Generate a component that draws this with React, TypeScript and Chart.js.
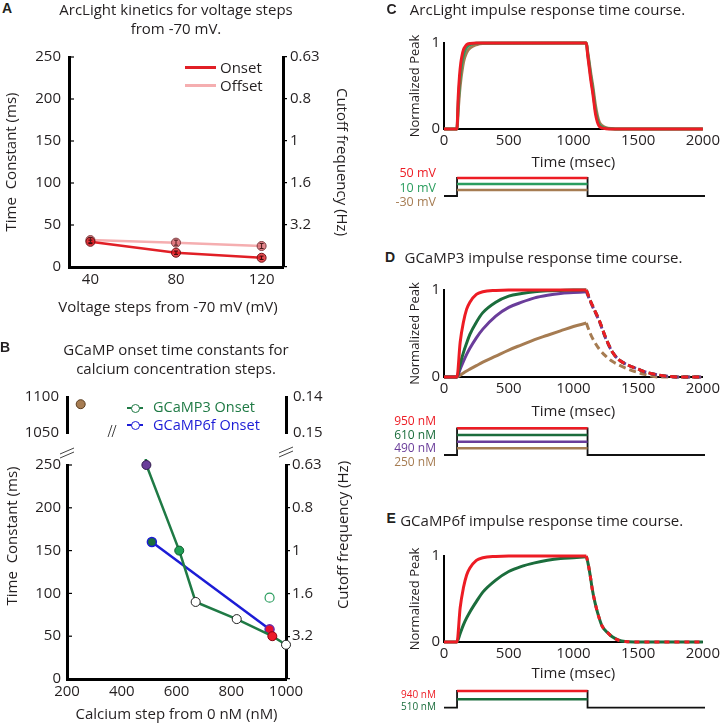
import React, { useEffect, useRef } from "react";
import { Chart, registerables } from "chart.js";
Chart.register(...registerables);

// ---------------- data ----------------
// Panel A: ArcLight kinetics
const voltageSteps = [40, 80, 120];
const arcOnsetTau = [30, 17, 11];
const arcOffsetTau = [32, 29, 25];
const arcOnsetErr = [2, 2, 2];
const arcOffsetErr = [3, 3, 3];
const tauTickValues = [0, 50, 100, 150, 200, 250];
const cutoffTickLabels = ["", "3.2", "1.6", "1", "0.8", "0.63"];

// Panel B: GCaMP onset time constants
const gcamp3Calcium = [250, 490, 610, 670, 820, 950, 1000];
const gcamp3Tau = [1090, 250, 150, 90, 70, 50, 40];
const gcamp3OpenCalcium = [940];
const gcamp3OpenTau = [95];
const gcamp6fCalcium = [510, 940];
const gcamp6fTau = [160, 58];
const calciumTicks = [200, 400, 600, 800, 1000];
const brokenTauTicks = [1050, 1100];
const brokenCutoffLabels = ["0.15", "0.14"];

// Panels C-E: impulse responses
const timeTicks = [0, 500, 1000, 1500, 2000];
const peakTicks = [0, 1];
const stimOnOff = [100, 1100];

// C: ArcLight
const timeC = [0, 100, 110, 120, 130, 140, 150, 160, 175, 200, 250, 300, 1100, 1110, 1120, 1135, 1150, 1170, 1185, 1200, 1225, 1250, 1300, 1350, 2000];
const arc50mV = [0, 0, 0.38, 0.62, 0.77, 0.86, 0.92, 0.95, 0.98, 0.995, 1, 1, 1, 0.86, 0.74, 0.56, 0.41, 0.18, 0.08, 0.03, 0.01, 0.004, 0, 0, 0];
const arc10mV = [0, 0, 0.3, 0.52, 0.68, 0.79, 0.86, 0.91, 0.95, 0.98, 0.998, 1, 1, 0.88, 0.77, 0.6, 0.45, 0.22, 0.11, 0.05, 0.02, 0.008, 0.002, 0, 0];
const arcNeg30mV = [0, 0, 0.22, 0.42, 0.57, 0.68, 0.77, 0.83, 0.89, 0.94, 0.98, 0.995, 1, 0.9, 0.8, 0.64, 0.5, 0.28, 0.16, 0.08, 0.035, 0.015, 0.004, 0.001, 0];
const stimLevelsC = [3, 2, 1];
const stimLabelsC = ["50 mV", "10 mV", "-30 mV"];

// D: GCaMP3
const riseTimeD = [0, 100, 125, 150, 175, 200, 250, 300, 400, 500, 600, 700, 800, 900, 1000, 1100];
const g3Rise950 = [0, 0, 0.4, 0.63, 0.78, 0.86, 0.95, 0.98, 0.995, 1, 1, 1, 1, 1, 1, 1];
const g3Rise610 = [0, 0, 0.15, 0.28, 0.39, 0.49, 0.63, 0.74, 0.86, 0.93, 0.96, 0.98, 0.99, 0.995, 1, 1];
const g3Rise490 = [0, 0, 0.09, 0.18, 0.26, 0.33, 0.45, 0.55, 0.7, 0.8, 0.86, 0.91, 0.94, 0.96, 0.97, 0.98];
const g3Rise250 = [0, 0, 0.02, 0.045, 0.07, 0.09, 0.13, 0.17, 0.24, 0.31, 0.37, 0.43, 0.48, 0.53, 0.58, 0.62];
const decayTimeD = [1100, 1130, 1160, 1200, 1250, 1300, 1350, 1425, 1500, 1550, 1650, 1750, 1850, 2000];
const g3Decay950 = [1, 0.88, 0.78, 0.65, 0.45, 0.29, 0.2, 0.135, 0.09, 0.06, 0.025, 0.005, 0, 0];
const g3Decay610 = [1, 0.88, 0.78, 0.65, 0.45, 0.29, 0.2, 0.135, 0.09, 0.06, 0.025, 0.005, 0, 0];
const g3Decay490 = [0.98, 0.87, 0.77, 0.64, 0.44, 0.29, 0.2, 0.135, 0.09, 0.06, 0.025, 0.005, 0, 0];
const g3Decay250 = [0.62, 0.5, 0.41, 0.32, 0.24, 0.18, 0.14, 0.09, 0.05, 0.03, 0, 0, 0, 0];
const stimLevelsD = [4, 3, 2, 1];
const stimLabelsD = ["950 nM", "610 nM", "490 nM", "250 nM"];

// E: GCaMP6f
const riseTimeE = [0, 100, 125, 150, 175, 200, 250, 300, 400, 500, 600, 700, 800, 900, 1000, 1100];
const g6Rise940 = [0, 0, 0.4, 0.63, 0.78, 0.86, 0.95, 0.98, 0.995, 1, 1, 1, 1, 1, 1, 1];
const g6Rise510 = [0, 0, 0.1, 0.2, 0.28, 0.35, 0.47, 0.58, 0.72, 0.82, 0.88, 0.92, 0.95, 0.97, 0.98, 0.99];
const decayTimeE = [1100, 1115, 1130, 1145, 1165, 1185, 1220, 1270, 1300, 1350, 1400, 1500, 2000];
const g6Decay940 = [1, 0.9, 0.77, 0.62, 0.47, 0.35, 0.19, 0.1, 0.06, 0.02, 0.005, 0, 0];
const g6Decay510 = [1, 0.9, 0.77, 0.62, 0.47, 0.35, 0.19, 0.1, 0.06, 0.02, 0.005, 0, 0];
const stimLevelsE = [2, 1];
const stimLabelsE = ["940 nM", "510 nM"];

// ---------------- styles ----------------
const FONT = "'Open Sans', 'Noto Sans', sans-serif";
const INK = "#231f20";
const RED = "#ed1c24";
const DGREEN = "#1b6d3c";
const PURPLE = "#6a3d9a";
const BROWN = "#a67c52";
const CGREEN = "#2a9d5e";
const BLUE = "#1c1cd6";
const LGREEN = "#1f7a45";

Chart.defaults.font.family = FONT;
Chart.defaults.color = INK;

const pts = (xs: number[], ys: number[]) => xs.map((x, i) => ({ x, y: ys[i] }));
const tickList = (vals: number[]) => (s: any) => {
  s.ticks = vals.map((v) => ({ value: v }));
};
const plain = (v: any) => String(v);

const errorBars = {
  id: "errorBars",
  afterDatasetsDraw(chart: any) {
    const ctx = chart.ctx;
    chart.data.datasets.forEach((ds: any, di: number) => {
      if (!ds.errors) return;
      const meta = chart.getDatasetMeta(di);
      const ys = chart.scales[meta.yAxisID];
      ctx.save();
      ctx.strokeStyle = ds.errorColor;
      ctx.lineWidth = 1;
      meta.data.forEach((el: any, i: number) => {
        const v = ds.data[i].y;
        const e = ds.errors[i];
        const y1 = ys.getPixelForValue(v - e);
        const y2 = ys.getPixelForValue(v + e);
        ctx.beginPath();
        ctx.moveTo(el.x, y1);
        ctx.lineTo(el.x, y2);
        ctx.moveTo(el.x - 2, y1);
        ctx.lineTo(el.x + 2, y1);
        ctx.moveTo(el.x - 2, y2);
        ctx.lineTo(el.x + 2, y2);
        ctx.stroke();
      });
      ctx.restore();
    });
  },
};

const innerTicks = {
  id: "innerTicks",
  afterDraw(chart: any) {
    const s = chart.scales.y;
    if (!s) return;
    const ctx = chart.ctx;
    const left = chart.chartArea.left;
    ctx.save();
    ctx.strokeStyle = "#000";
    ctx.lineWidth = 1.2;
    s.ticks.forEach((t: any) => {
      const y = s.getPixelForValue(t.value);
      ctx.beginPath();
      ctx.moveTo(left, y);
      ctx.lineTo(left + 5, y);
      ctx.stroke();
    });
    ctx.restore();
  },
};

const breakMarksBottom = {
  id: "breakMarksBottom",
  afterDraw(chart: any) {
    const { left, right, top } = chart.chartArea;
    const ctx = chart.ctx;
    ctx.save();
    ctx.strokeStyle = "#444";
    ctx.lineWidth = 1;
    const pair = (cx: number, cy: number) => {
      for (const dy of [-2, 2]) {
        ctx.beginPath();
        ctx.moveTo(cx - 7, cy + dy + 3);
        ctx.lineTo(cx + 7, cy + dy - 3);
        ctx.stroke();
      }
    };
    pair(left, top - 12);
    pair(right, top - 13);
    ctx.restore();
  },
};

const breakMarksTop = {
  id: "breakMarksTop",
  afterDraw(chart: any) {
    const { left, bottom } = chart.chartArea;
    const ctx = chart.ctx;
    ctx.save();
    ctx.strokeStyle = "#444";
    ctx.lineWidth = 1;
    const cx = left + 45;
    const cy = bottom - 2;
    for (const dx of [-2, 2]) {
      ctx.beginPath();
      ctx.moveTo(cx + dx - 2, cy + 6);
      ctx.lineTo(cx + dx + 2, cy - 6);
      ctx.stroke();
    }
    ctx.restore();
  },
};

const baseOpts = (padding: any) => ({
  responsive: false,
  maintainAspectRatio: false,
  animation: false,
  events: [],
  layout: { padding },
  plugins: { legend: { display: false }, tooltip: { enabled: false }, title: { display: false } },
});

function makeA(cv: HTMLCanvasElement) {
  return new Chart(cv, {
    type: "line",
    data: {
      datasets: [
        {
          data: pts(voltageSteps, arcOnsetTau),
          borderColor: "#e11f26",
          borderWidth: 2.5,
          pointRadius: 4.5,
          pointBackgroundColor: "rgba(226,30,38,0.8)",
          pointBorderColor: "#6e1418",
          pointBorderWidth: 1,
          errors: arcOnsetErr,
          errorColor: "#3a0808",
          clip: false,
        } as any,
        {
          data: pts(voltageSteps, arcOffsetTau),
          borderColor: "#f5aeb0",
          borderWidth: 2.5,
          pointRadius: 4.5,
          pointBackgroundColor: "rgba(220,105,112,0.8)",
          pointBorderColor: "#7e3a3e",
          pointBorderWidth: 1,
          errors: arcOffsetErr,
          errorColor: "#4a1a1a",
          clip: false,
        } as any,
      ],
    },
    options: {
      ...baseOpts({ top: 17, right: 0, bottom: 0, left: 0 }),
      scales: {
        x: {
          type: "linear",
          min: 30,
          max: 130,
          afterFit: (s: any) => { s.height = 58; },
          afterBuildTicks: tickList(voltageSteps),
          grid: { display: false, drawTicks: false },
          border: { display: true, color: "#000", width: 3 },
          ticks: { padding: 4, font: { size: 15 }, color: INK, maxRotation: 0, callback: plain },
        },
        y: {
          type: "linear",
          position: "left",
          min: 0,
          max: 250,
          afterFit: (s: any) => { s.width = 69; },
          afterBuildTicks: tickList(tauTickValues),
          grid: { display: false, drawTicks: false },
          border: { display: true, color: "#000", width: 3 },
          ticks: { padding: 8, font: { size: 15 }, color: INK, callback: plain },
          title: { display: true, text: "Time  Constant (ms)", font: { size: 15 }, color: INK, padding: { top: 2.5, bottom: 0 } },
        },
        y2: {
          type: "linear",
          position: "right",
          min: 0,
          max: 250,
          afterFit: (s: any) => { s.width = 77; },
          afterBuildTicks: tickList(tauTickValues),
          grid: { display: true, drawOnChartArea: false, drawTicks: true, tickLength: 4, color: "#000", lineWidth: 1.2 },
          border: { display: true, color: "#000", width: 3 },
          ticks: { padding: 3, font: { size: 15 }, color: INK, callback: (_v: any, i: number) => cutoffTickLabels[i] },
          title: { display: true, text: "Cutoff frequency (Hz)", font: { size: 15 }, color: INK, padding: { top: 10, bottom: 0 } },
        },
      },
    } as any,
    plugins: [errorBars, innerTicks],
  });
}

const g3Fill = [BROWN, PURPLE, "#1fa055", "#ffffff", "#ffffff", "#ec1c2a", "#ffffff"];
const g3Edge = ["#5a3d20", "#2f1a4a", "#0f5a2c", "#222", "#222", "#8a0010", "#222"];
const g6Fill = ["#1b6e3c", "#e8102e"];
const g6Edge = [BLUE, "#6a2aa8"];

function makeBTop(cv: HTMLCanvasElement) {
  return new Chart(cv, {
    type: "line",
    data: {
      datasets: [
        {
          data: pts(gcamp3Calcium, gcamp3Tau),
          showLine: false,
          pointRadius: 4.5,
          pointBackgroundColor: g3Fill,
          pointBorderColor: g3Edge,
          pointBorderWidth: 1,
          clip: 0,
        } as any,
      ],
    },
    options: {
      ...baseOpts({ top: 13, right: 0, bottom: 14, left: 0 }),
      scales: {
        x: { type: "linear", min: 200, max: 1000, display: false },
        y: {
          type: "linear",
          position: "left",
          min: 1050,
          max: 1100,
          afterFit: (s: any) => { s.width = 67; },
          afterBuildTicks: tickList(brokenTauTicks),
          grid: { display: false, drawTicks: false },
          border: { display: true, color: "#000", width: 3 },
          ticks: { padding: 8, font: { size: 15 }, color: INK, callback: plain },
        },
        y2: {
          type: "linear",
          position: "right",
          min: 1050,
          max: 1100,
          afterFit: (s: any) => { s.width = 74; },
          afterBuildTicks: tickList(brokenTauTicks),
          grid: { display: false, drawTicks: false },
          border: { display: true, color: "#000", width: 3 },
          ticks: { padding: 7, font: { size: 15 }, color: INK, callback: (_v: any, i: number) => brokenCutoffLabels[i] },
        },
      },
    } as any,
    plugins: [breakMarksTop],
  });
}

function makeBBottom(cv: HTMLCanvasElement) {
  const clip = { left: 8, right: 8, top: 6, bottom: 8 };
  return new Chart(cv, {
    type: "line",
    data: {
      datasets: [
        {
          data: pts(gcamp3Calcium, gcamp3Tau),
          borderColor: LGREEN,
          borderWidth: 2.5,
          pointRadius: 4.5,
          pointBackgroundColor: g3Fill,
          pointBorderColor: g3Edge,
          pointBorderWidth: 1,
          tension: 0,
          clip,
        } as any,
        {
          data: pts(gcamp3OpenCalcium, gcamp3OpenTau),
          showLine: false,
          pointRadius: 4.5,
          pointBackgroundColor: "rgba(255,255,255,0)",
          pointBorderColor: "#2a9d5e",
          pointBorderWidth: 1.2,
          clip,
        } as any,
        {
          data: pts(gcamp6fCalcium, gcamp6fTau),
          borderColor: BLUE,
          borderWidth: 2.5,
          pointRadius: 4.5,
          pointBackgroundColor: g6Fill,
          pointBorderColor: g6Edge,
          pointBorderWidth: 1.5,
          tension: 0,
          clip,
        } as any,
      ],
    },
    options: {
      ...baseOpts({ top: 25, right: 0, bottom: 0, left: 0 }),
      scales: {
        x: {
          type: "linear",
          min: 200,
          max: 1000,
          afterFit: (s: any) => { s.height = 45; },
          afterBuildTicks: tickList(calciumTicks),
          grid: { display: false, drawTicks: false },
          border: { display: true, color: "#000", width: 3 },
          ticks: { padding: 3.5, font: { size: 15 }, color: INK, maxRotation: 0, callback: plain },
          title: { display: true, text: "Calcium step from 0 nM (nM)", font: { size: 15 }, color: INK, padding: { top: 0, bottom: 0 } },
        },
        y: {
          type: "linear",
          position: "left",
          min: 0,
          max: 250,
          afterFit: (s: any) => { s.width = 67; },
          afterBuildTicks: tickList(tauTickValues),
          grid: { display: false, drawTicks: false },
          border: { display: true, color: "#000", width: 3 },
          ticks: { padding: 6, font: { size: 15 }, color: INK, callback: plain },
        },
        y2: {
          type: "linear",
          position: "right",
          min: 0,
          max: 250,
          afterFit: (s: any) => { s.width = 74; },
          afterBuildTicks: tickList(tauTickValues),
          grid: { display: true, drawOnChartArea: false, drawTicks: true, tickLength: 4, color: "#000", lineWidth: 1.2 },
          border: { display: true, color: "#000", width: 3 },
          ticks: { padding: 2, font: { size: 15 }, color: INK, callback: (_v: any, i: number) => cutoffTickLabels[i] },
        },
      },
    } as any,
    plugins: [innerTicks, breakMarksBottom],
  });
}

function curve(xs: number[], ys: number[], color: string, dash: number[] = [], width = 3) {
  return {
    data: pts(xs, ys),
    borderColor: color,
    borderWidth: width,
    borderDash: dash,
    pointRadius: 0,
    cubicInterpolationMode: "monotone",
    clip: 4,
  } as any;
}

function makeTime(cv: HTMLCanvasElement, datasets: any[], topPad: number, titlePad: number) {
  return new Chart(cv, {
    type: "line",
    data: { datasets },
    options: {
      ...baseOpts({ top: topPad, right: 18, bottom: 0, left: 0 }),
      scales: {
        x: {
          type: "linear",
          min: 0,
          max: 2000,
          afterFit: (s: any) => { s.height = 51; },
          afterBuildTicks: tickList(timeTicks),
          grid: { display: false, drawTicks: false },
          border: { display: true, color: "#000", width: 2 },
          ticks: { padding: 3, font: { size: 15 }, color: INK, maxRotation: 0, callback: plain },
          title: { display: true, text: "Time (msec)", font: { size: 15 }, color: INK, padding: { top: 0, bottom: titlePad } },
        },
        y: {
          type: "linear",
          position: "left",
          min: 0,
          max: 1,
          afterFit: (s: any) => { s.width = 84; },
          afterBuildTicks: tickList(peakTicks),
          grid: { display: false, drawTicks: false },
          border: { display: true, color: "#000", width: 2 },
          ticks: { padding: 4, font: { size: 15 }, color: INK, callback: plain },
          title: { display: true, text: "Normalized Peak", font: { size: 13 }, color: INK, padding: { top: 47, bottom: 0 } },
        },
      },
    } as any,
  });
}

function makeStim(cv: HTMLCanvasElement, levels: number[], colors: string[], padTop: number, padBottom: number) {
  const topLv = Math.max(...levels);
  const colored = levels.map((lv, i) => ({
    data: [{ x: stimOnOff[0], y: lv }, { x: stimOnOff[1], y: lv }],
    borderColor: colors[i],
    borderWidth: 2.5,
    pointRadius: 0,
    tension: 0,
    clip: false,
  }));
  const outline = {
    data: [
      { x: 0, y: 0 },
      { x: stimOnOff[0], y: 0 },
      { x: stimOnOff[0], y: topLv },
      { x: stimOnOff[1], y: topLv },
      { x: stimOnOff[1], y: 0 },
      { x: 2000, y: 0 },
    ],
    borderColor: "#111",
    borderWidth: 1.8,
    pointRadius: 0,
    tension: 0,
    clip: false,
  };
  return new Chart(cv, {
    type: "line",
    data: { datasets: [...colored, outline] as any },
    options: {
      ...baseOpts({ top: padTop, right: 18, bottom: padBottom, left: 84 }),
      scales: {
        x: { type: "linear", min: 0, max: 2000, display: false },
        y: { type: "linear", min: 0, max: topLv, display: false },
      },
    } as any,
  });
}

// --------------- HTML text helpers ---------------
function Txt(props: { x: number; y: number; s: number; c?: string; b?: boolean; a?: "left" | "center" | "right"; r?: boolean; f?: string; t: string }) {
  const { x, y, s, c = INK, b = false, a = "left", r = false, f = FONT, t } = props;
  const W = 400;
  const lh = Math.round(s * 1.3);
  let left = x;
  if (a === "center") left = x - W / 2;
  if (a === "right") left = x - W;
  const style: React.CSSProperties = {
    position: "absolute",
    left,
    top: y - lh / 2,
    width: W,
    height: lh,
    lineHeight: lh + "px",
    fontSize: s,
    fontFamily: f,
    fontWeight: b ? 700 : 400,
    color: c,
    textAlign: a,
    whiteSpace: "pre",
    transform: r ? "rotate(-90deg)" : undefined,
  };
  return <div style={style}>{t}</div>;
}

function Seg(props: { x: number; y: number; w: number; h: number; c: string }) {
  return <div style={{ position: "absolute", left: props.x, top: props.y - props.h / 2, width: props.w, height: props.h, background: props.c }} />;
}

function LegendMark(props: { x: number; y: number; c: string }) {
  return (
    <>
      <Seg x={props.x} y={props.y} w={16} h={2.6} c={props.c} />
      <div style={{ position: "absolute", left: props.x + 3.5, top: props.y - 4.5, width: 9, height: 9, borderRadius: "50%", border: `1.3px solid ${props.c}`, background: "#fff", boxSizing: "border-box" }} />
    </>
  );
}

const LETTER = "'Liberation Sans', Arial, sans-serif";

export default function App() {
  const rA = useRef<HTMLCanvasElement>(null);
  const rBT = useRef<HTMLCanvasElement>(null);
  const rBB = useRef<HTMLCanvasElement>(null);
  const rC = useRef<HTMLCanvasElement>(null);
  const rCs = useRef<HTMLCanvasElement>(null);
  const rD = useRef<HTMLCanvasElement>(null);
  const rDs = useRef<HTMLCanvasElement>(null);
  const rE = useRef<HTMLCanvasElement>(null);
  const rEs = useRef<HTMLCanvasElement>(null);

  useEffect(() => {
    const charts: Chart[] = [];
    charts.push(makeA(rA.current!));
    charts.push(makeBTop(rBT.current!));
    charts.push(makeBBottom(rBB.current!));
    charts.push(
      makeTime(
        rC.current!,
        [curve(timeC, arc50mV, RED), curve(timeC, arc10mV, CGREEN), curve(timeC, arcNeg30mV, BROWN)],
        15,
        8
      )
    );
    charts.push(makeStim(rCs.current!, stimLevelsC, [RED, CGREEN, BROWN], 13, 9));
    charts.push(
      makeTime(
        rD.current!,
        [
          curve(riseTimeD, g3Rise950, RED),
          curve(decayTimeD, g3Decay950, RED, [7, 4]),
          curve(riseTimeD, g3Rise610, DGREEN),
          curve(decayTimeD, g3Decay610, DGREEN, [7, 4]),
          curve(riseTimeD, g3Rise490, PURPLE),
          curve(decayTimeD, g3Decay490, PURPLE, [7, 4]),
          curve(riseTimeD, g3Rise250, BROWN),
          curve(decayTimeD, g3Decay250, BROWN, [7, 4]),
        ],
        14,
        7
      )
    );
    charts.push(makeStim(rDs.current!, stimLevelsD, [RED, DGREEN, PURPLE, BROWN], 13.3, 10));
    charts.push(
      makeTime(
        rE.current!,
        [
          curve(riseTimeE, g6Rise940, RED),
          curve(decayTimeE, g6Decay940, RED, [5, 5]),
          curve(riseTimeE, g6Rise510, DGREEN),
          curve(decayTimeE, g6Decay510, DGREEN),
        ],
        15,
        10.5
      )
    );
    charts.push(makeStim(rEs.current!, stimLevelsE, [RED, DGREEN], 11, 12.3));
    return () => charts.forEach((c) => c.destroy());
  }, []);

  const cv = (ref: any, left: number, top: number, w: number, h: number) => (
    <canvas ref={ref} width={w} height={h} style={{ position: "absolute", left, top, width: w, height: h }} />
  );

  return (
    <div style={{ position: "absolute", left: 0, top: 0, width: 723, height: 724, overflow: "hidden", background: "#fff" }}>
      {cv(rA, 0, 40, 360, 285)}
      {cv(rBT, 0, 380, 360, 70)}
      {cv(rBB, 0, 440, 360, 284)}
      {cv(rC, 360, 28, 363, 152)}
      {cv(rCs, 360, 165, 363, 40)}
      {cv(rD, 360, 276, 363, 152)}
      {cv(rDs, 360, 415, 363, 50)}
      {cv(rE, 360, 541, 363, 152)}
      {cv(rEs, 360, 680, 363, 40)}

      {/* Panel A text */}
      <Txt x={2} y={8} s={14} b f={LETTER} t="A" />
      <Txt x={176} y={9} s={15} a="center" t="ArcLight kinetics for voltage steps" />
      <Txt x={176} y={27.5} s={15} a="center" t="from -70 mV." />
      <Seg x={185} y={67.5} w={31} h={3} c="#e11f26" />
      <Txt x={220} y={67} s={15} t="Onset" />
      <Seg x={185} y={85} w={31} h={3} c="#f5aeb0" />
      <Txt x={220} y={85} s={15} t="Offset" />
      <Txt x={168} y={306} s={15} a="center" t="Voltage steps from -70 mV (mV)" />

      {/* Panel B text */}
      <Txt x={0} y={347} s={14} b f={LETTER} t="B" />
      <Txt x={176} y={349} s={15} a="center" t="GCaMP onset time constants for" />
      <Txt x={176} y={368} s={15} a="center" t="calcium concentration steps." />
      <LegendMark x={127} y={408} c={LGREEN} />
      <Txt x={153} y={406.5} s={14.5} c={LGREEN} t="GCaMP3 Onset" />
      <LegendMark x={127} y={425} c={BLUE} />
      <Txt x={153} y={424} s={14.5} c={BLUE} t="GCaMP6f Onset" />
      <Txt x={11} y={536} s={15} a="center" r t="Time  Constant (ms)" />
      <Txt x={341.5} y={535} s={15} a="center" r t="Cutoff frequency (Hz)" />

      {/* Panel C text */}
      <Txt x={386.5} y={8.5} s={14} b f={LETTER} t="C" />
      <Txt x={547.5} y={8.5} s={15} a="center" t="ArcLight impulse response time course." />
      {stimLabelsC.map((t, i) => (
        <Txt key={t} x={436} y={173 + i * 14.5} s={12.5} a="right" c={[RED, CGREEN, BROWN][i]} t={t} />
      ))}

      {/* Panel D text */}
      <Txt x={385} y={256.5} s={14} b f={LETTER} t="D" />
      <Txt x={543.5} y={256.5} s={15} a="center" t="GCaMP3 impulse response time course." />
      {stimLabelsD.map((t, i) => (
        <Txt key={t} x={436} y={421 + i * 13.6} s={12} a="right" c={[RED, DGREEN, PURPLE, BROWN][i]} t={t} />
      ))}

      {/* Panel E text */}
      <Txt x={386.5} y={518} s={14} b f={LETTER} t="E" />
      <Txt x={541.7} y={520} s={15} a="center" t="GCaMP6f impulse response time course." />
      {stimLabelsE.map((t, i) => (
        <Txt key={t} x={436} y={694 + i * 12.5} s={10} a="right" c={[RED, DGREEN][i]} t={t} />
      ))}
    </div>
  );
}
